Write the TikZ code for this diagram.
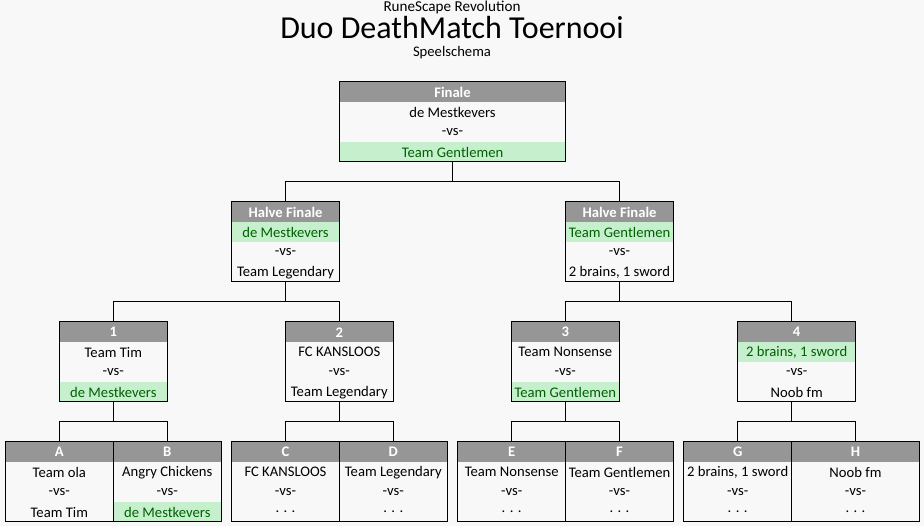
\documentclass[tikz,border=0pt]{standalone}
\usepackage{fontspec}
\setmainfont{Carlito}
\usetikzlibrary{fit}
\definecolor{bg}{HTML}{F8F8F8}
\definecolor{hdr}{HTML}{969696}
\definecolor{winfill}{HTML}{C6EFCE}
\definecolor{wintext}{HTML}{006100}
\tikzset{
  txt/.style={inner sep=0pt, font=\fontsize{14.7}{16}\selectfont},
  hdrtxt/.style={txt, text=white, font=\fontsize{14.7}{16}\selectfont\bfseries},
  boxline/.style={draw=black, line width=1bp, inner sep=0pt, outer sep=0pt},
  conn/.style={draw=black, line width=1bp},
}
% #1 name, #2 x1, #3 x2, #4 top y, #5 header, #6 first team, #7 second team, #8 winner row (0,1,3)
\newcommand\matchbox[8]{%
  \fill[hdr] (#2,#4) rectangle (#3,#4+20);
  \ifnum#8=1 \fill[winfill] (#2,#4+20) rectangle (#3,#4+40);\def\colA{wintext}\else\def\colA{black}\fi
  \ifnum#8=3 \fill[winfill] (#2,#4+60) rectangle (#3,#4+80);\def\colB{wintext}\else\def\colB{black}\fi
  \node[hdrtxt] (#1-h) at ({(#2+#3)/2},#4+10.5) {#5};
  \node[txt, text=\colA] (#1-a) at ({(#2+#3)/2},#4+30.5) {#6};
  \node[txt] (#1-v) at ({(#2+#3)/2},#4+50.5) {-vs-};
  \node[txt, text=\colB] (#1-b) at ({(#2+#3)/2},#4+70.5) {#7};
  \node[boxline, fit={(#2,#4) (#3,#4+80)}] (#1) {};
}
\begin{document}
\begin{tikzpicture}[x=1bp,y=-1bp]
\fill[bg] (0,0) rectangle (924,526);
\useasboundingbox (0,0) rectangle (924,526);
% titles
\node[inner sep=0pt, font=\fontsize{15.2}{16}\selectfont] (t1) at (452,7.5) {RuneScape Revolution};
\node[inner sep=0pt, font=\fontsize{32.1}{34}\selectfont] (t2) at (452,27.5) {Duo DeathMatch Toernooi};
\node[txt] (t3) at (452,53) {Speelschema};
% boxes
\matchbox{fin}{339.3}{565.7}{81.7}{Finale}{de Mestkevers}{Team Gentlemen}{3}
\matchbox{hfL}{231.7}{339.3}{201.7}{Halve Finale}{de Mestkevers}{Team Legendary}{1}
\matchbox{hfR}{565.7}{673.3}{201.7}{Halve Finale}{Team Gentlemen}{2 brains, 1 sword}{1}
\matchbox{m1}{59.3}{167.3}{321.7}{1}{Team Tim}{de Mestkevers}{3}
\matchbox{m2}{285.3}{393.3}{321.7}{2}{FC KANSLOOS}{Team Legendary}{0}
\matchbox{m3}{511.3}{619.3}{321.7}{3}{Team Nonsense}{Team Gentlemen}{3}
\matchbox{m4}{737.7}{855.7}{321.7}{4}{2 brains, 1 sword}{Noob fm}{1}
\matchbox{mA}{5.3}{113.3}{441.7}{A}{Team ola}{Team Tim}{0}
\matchbox{mB}{113.3}{221.3}{441.7}{B}{Angry Chickens}{de Mestkevers}{3}
\matchbox{mC}{231.7}{339.3}{441.7}{C}{FC KANSLOOS}{. . .}{0}
\matchbox{mD}{339.3}{447.3}{441.7}{D}{Team Legendary}{. . .}{0}
\matchbox{mE}{457.7}{565.7}{441.7}{E}{Team Nonsense}{. . .}{0}
\matchbox{mF}{565.7}{673.3}{441.7}{F}{Team Gentlemen}{. . .}{0}
\matchbox{mG}{683.7}{791.7}{441.7}{G}{2 brains, 1 sword}{. . .}{0}
\matchbox{mH}{791.7}{919.3}{441.7}{H}{Noob fm}{. . .}{0}
% connectors
\draw[conn] (fin.south) -- ++(0,20) -| (hfL.north);
\draw[conn] (fin.south) -- ++(0,20) -| (hfR.north);
\draw[conn] (hfL.south) -- ++(0,20) -| (m1.north);
\draw[conn] (hfL.south) -- ++(0,20) -| (m2.north);
\coordinate (m4top) at (791.7,321.7);
\coordinate (m4bot) at (791.7,401.7);
\draw[conn] (hfR.south) -- ++(0,20) -| (m3.north);
\draw[conn] (hfR.south) -- ++(0,20) -| (m4top);
\draw[conn] (m1.south) -- ++(0,20) -| (mA.north);
\draw[conn] (m1.south) -- ++(0,20) -| (mB.north);
\draw[conn] (m2.south) -- ++(0,20) -| (mC.north);
\draw[conn] (m2.south) -- ++(0,20) -| (mD.north);
\draw[conn] (m3.south) -- ++(0,20) -| (mE.north);
\draw[conn] (m3.south) -- ++(0,20) -| (mF.north);
\draw[conn] (m4bot) -- ++(0,20) -| (mG.north);
\draw[conn] (m4bot) -- ++(0,20) -| (mH.north);
\end{tikzpicture}
\end{document}
